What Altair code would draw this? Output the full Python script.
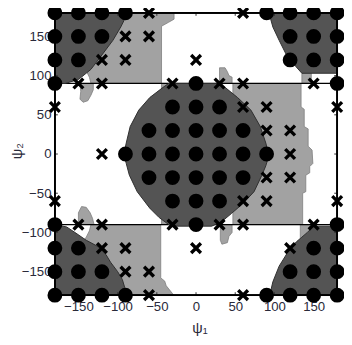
import altair as alt
import pandas as pd

# ---- tick values ----
tick_vals = [-150, -100, -50, 0, 50, 100, 150]

# ---- marker positions (psi1 values per psi2 row) ----
circle_rows = {
    180: [-180, -150, -120, -90, 90, 120, 150, 180],
    150: [-180, -150, -120, 120, 150, 180],
    120: [-180, -150, 120, 150, 180],
    90: [-180, 0, 180],
    60: [-30, 0, 30],
    30: [-60, -30, 0, 30, 60],
    0: [-90, -60, -30, 0, 30, 60, 90],
    -30: [-60, -30, 0, 30, 60],
    -60: [-30, 0, 30],
    -90: [-180, 0, 180],
    -120: [-180, -150, 150, 180],
    -150: [-180, -150, -120, 120, 150, 180],
    -180: [-180, -150, -120, -90, 90, 120, 150, 180],
}
cross_rows = {
    180: [-60, 60],
    150: [-90, -60],
    120: [-120, -90, 0],
    90: [-150, -120, -30, 30, 60, 150],
    60: [-180, 60, 90, 180],
    30: [90, 120],
    0: [-120, 120],
    -30: [90, 120],
    -60: [-180, 60, 90, 180],
    -90: [-150, -120, -30, 30, 60, 150],
    -120: [-120, -90, 0, 120],
    -150: [-90, -60],
    -180: [-60, 60],
}

# ---- region outlines (psi1, psi2) ----
dark_top_left = [(-180, 180), (-90, 180), (-92, 170), (-96, 162), (-106, 145), (-121, 125),
                 (-134, 108), (-150, 95), (-167, 90), (-180, 90)]
dark_top_right = [(93, 180), (180, 180), (180, 103), (135, 103), (127, 112), (116, 125),
                  (106, 145), (98, 162)]
dark_bottom_left = [(-180, -90), (-165, -93), (-153, -101), (-140, -110), (-125, -118),
                    (-115, -128), (-109, -138), (-100, -150), (-94, -160), (-91, -170),
                    (-90, -180), (-180, -180)]
dark_bottom_right = [(150, -92), (180, -92), (180, -180), (94, -180), (98, -163), (106, -143),
                     (119, -122), (128, -112), (135, -106), (142, -100)]
dark_center = [(-92, 0), (-89, 14), (-84, 35), (-73, 56), (-59, 72), (-42, 85), (-35, 90),
               (25, 90), (37, 85), (53, 72), (70, 56), (82, 35), (89, 14), (93, -2), (89, -15),
               (84, -27), (74, -48), (60, -63), (45, -76), (33, -86), (20, -92), (-32, -92),
               (-47, -81), (-59, -69), (-75, -48), (-85, -27), (-89, -12)]

light_top_left = [(-180, 180), (-28, 180), (-28, 172), (-35, 168), (-44, 163), (-44, 90),
                  (-134, 90), (-136, 98), (-140, 106), (-145, 112), (-180, 112)]
light_top_left_drip = [(-148, 90), (-131, 90), (-131, 82), (-134, 75), (-138, 68), (-144, 66),
                       (-148, 70), (-147, 80)]
light_bottom_left = [(-134, -90), (-45, -90), (-45, -158), (-40, -162), (-38, -168), (-30, -178),
                     (-28, -180), (-180, -180), (-180, -112), (-145, -112), (-140, -106),
                     (-136, -98)]
light_bottom_left_drip = [(-150, -90), (-130, -90), (-132, -82), (-135, -75), (-140, -68),
                          (-146, -67), (-150, -75)]
light_center = [(47, 90), (134, 90), (134, 60), (138, 57), (138, 35), (143, 32), (143, 10),
                (148, 5), (149, -12), (145, -16), (145, -24), (140, -27), (140, -48),
                (136, -50), (136, -90), (47, -90), (47, -75), (30, -50), (30, 50), (47, 75)]
light_center_bump = [(30, 90), (30, 110), (37, 110), (40, 105), (42, 100), (46, 98), (46, 90)]
light_center_drip = [(31, -90), (46, -90), (46, -100), (42, -105), (40, -113), (33, -115),
                     (31, -110)]
light_left_strip_top = [(-44, 90), (-34, 90), (-34, 70), (-44, 70)]
light_left_strip_bottom = [(-44, -90), (-34, -90), (-34, -70), (-44, -70)]
light_top_right_patch = [(135, 90), (147, 90), (147, 103), (135, 103)]
light_bottom_right_patch = [(133, -90), (152, -90), (133, -110)]

band_lines = [90, -90]


def poly_frame(polys):
    rows = []
    for pid, pts in enumerate(polys):
        for i, (a, b) in enumerate(pts):
            rows.append({"poly": pid, "i": i, "psi1": a, "psi2": b})
    return pd.DataFrame(rows)


def marker_frame(rows_dict):
    return pd.DataFrame([{"psi1": a, "psi2": b} for b, lst in rows_dict.items() for a in lst])


dark_df = poly_frame([dark_top_left, dark_top_right, dark_bottom_left, dark_bottom_right, dark_center])
light_df = poly_frame([light_top_left, light_top_left_drip, light_bottom_left, light_bottom_left_drip,
                       light_center, light_center_bump, light_center_drip, light_left_strip_top,
                       light_left_strip_bottom, light_top_right_patch, light_bottom_right_patch])
circ_df = marker_frame(circle_rows)
cross_df = marker_frame(cross_rows)

W = 289
H = 289
xs = alt.Scale(domain=[-180, 180], nice=False, zero=False)
ys = alt.Scale(domain=[-180, 180], nice=False, zero=False)

label_color = "#2a2a3a"
font = "Liberation Sans"

xaxis = alt.Axis(values=tick_vals, title="ψ₁", grid=False, domain=False, ticks=False,
                 labelFontSize=13.5, labelPadding=5, labelColor=label_color, labelFont=font,
                 titleFontSize=15, titleFont=font, titleColor=label_color, titleFontWeight="normal",
                 titleX=148, titleY=33, titleBaseline="middle")
yaxis = alt.Axis(values=tick_vals, title="ψ₂", grid=False, domain=False, ticks=False,
                 labelFontSize=13.5, labelPadding=4, labelColor=label_color, labelFont=font,
                 titleFontSize=15, titleFont=font, titleColor=label_color, titleFontWeight="normal",
                 titleX=-39, titleY=141, titleBaseline="middle", titleAngle=-90)

X = alt.X("psi1:Q", scale=xs, axis=xaxis)
Y = alt.Y("psi2:Q", scale=ys, axis=yaxis)
Xn = alt.X("psi1:Q", scale=xs)
Yn = alt.Y("psi2:Q", scale=ys)

light = alt.Chart(light_df).mark_line(
    interpolate="linear-closed", fill="#a2a2a2", stroke="#7d7d7d", strokeWidth=0.8
).encode(x=X, y=Y, detail="poly:N", order="i:Q")

bands = alt.Chart(pd.DataFrame({"psi2": band_lines})).mark_rule(
    color="black", strokeWidth=1.3
).encode(y=Yn, x=alt.value(0), x2=alt.value(W))

dark = alt.Chart(dark_df).mark_line(
    interpolate="linear-closed", fill="#545454", stroke="#2e2e2e", strokeWidth=1
).encode(x=Xn, y=Yn, detail="poly:N", order="i:Q")

crosses = alt.Chart(cross_df).mark_point(
    shape="M-1,-1L1,1M-1,1L1,-1", size=100, strokeWidth=3.4, color="black",
    filled=False, opacity=1
).encode(x=Xn, y=Yn)

circles = alt.Chart(circ_df).mark_circle(size=230, color="black", opacity=1).encode(x=Xn, y=Yn)

tick_df = pd.DataFrame({"t": tick_vals})
tick_bottom = alt.Chart(tick_df).mark_rule(color="#333", strokeWidth=1).encode(
    x=alt.X("t:Q", scale=xs), y=alt.value(H), y2=alt.value(H - 3))
tick_top = alt.Chart(tick_df).mark_rule(color="#333", strokeWidth=1).encode(
    x=alt.X("t:Q", scale=xs), y=alt.value(0), y2=alt.value(3))
tick_left = alt.Chart(tick_df).mark_rule(color="#333", strokeWidth=1).encode(
    y=alt.Y("t:Q", scale=ys), x=alt.value(0), x2=alt.value(3))
tick_right = alt.Chart(tick_df).mark_rule(color="#333", strokeWidth=1).encode(
    y=alt.Y("t:Q", scale=ys), x=alt.value(W), x2=alt.value(W - 3))

box = [
    alt.Chart(tick_df).mark_rule(color="black", strokeWidth=1).encode(
        x=alt.value(0), x2=alt.value(W), y=alt.value(0)),
    alt.Chart(tick_df).mark_rule(color="black", strokeWidth=1).encode(
        x=alt.value(0), x2=alt.value(W), y=alt.value(H)),
    alt.Chart(tick_df).mark_rule(color="black", strokeWidth=1).encode(
        y=alt.value(0), y2=alt.value(H), x=alt.value(0)),
    alt.Chart(tick_df).mark_rule(color="black", strokeWidth=1).encode(
        y=alt.value(0), y2=alt.value(H), x=alt.value(W)),
]

chart = alt.layer(
    light, bands, dark, tick_bottom, tick_top, tick_left, tick_right, *box, crosses, circles
).properties(
    width=W, height=H,
    autosize=alt.AutoSizeParams(type="none"),
    padding={"left": 48, "top": 1, "right": 7, "bottom": 46},
).configure_view(stroke=None).configure(background="white")

chart.save("out.html", embed_options={"renderer": "svg", "actions": False})
